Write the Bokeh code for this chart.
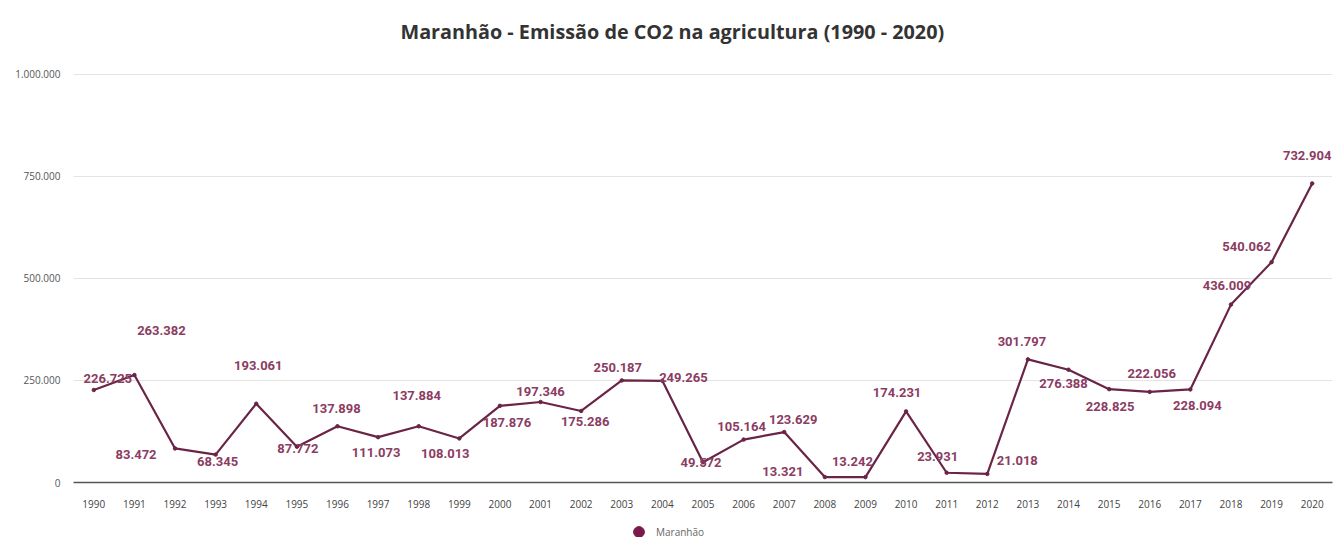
from bokeh.plotting import figure
from bokeh.layouts import column
from bokeh.models import (ColumnDataSource, FixedTicker, Legend, LegendItem,
                          LabelSet)
from bokeh.core.properties import value
from bokeh.embed import file_html
from bokeh.resources import INLINE

# Emissões anuais de CO2 na agricultura do Maranhão
years = list(range(1990, 2021))
emissions = [226725, 263382, 83472, 68345, 193061, 87772, 137898, 111073,
             137884, 108013, 187876, 197346, 175286, 250187, 249265, 49572,
             105164, 123629, 13321, 13242, 174231, 23931, 21018, 301797,
             276388, 228825, 222056, 228094, 436009, 540062, 732904]
y_ticks = [0, 250000, 500000, 750000, 1000000]
y_tick_labels = ["0", "250.000", "500.000", "750.000", "1.000.000"]

# label placement (pixel offsets from each point)
label_dx = [14, 27, -39, 2, 2, 1, -1, -2, -2, -14, 7, 0, 4, -4, 21, -2,
            -2, 9, -42, -13, -9, -9, 30, -6, -5, 1, 2, 7, -4, -25, -5]
label_dy = [11, 45, -6, -7, 38, -2, 18, -15, 31, -15, -17, 10, -11, 13, 3, 0,
            13, 13, 6, 16, 19, 16, 13, 18, -14, -17, 18, -16, 19, 16, 28]

LINE = "#6a2446"
LABEL = "#8b3c63"


def fmt(v):
    return f"{v:,}".replace(",", ".")


src = ColumnDataSource(dict(
    x=years, y=emissions,
    txt=[fmt(v) for v in emissions],
    dx=label_dx, dy=label_dy,
))

p = figure(width=1340, height=510, output_backend="svg", toolbar_location=None,
           x_range=(1989.5, 2020.5), y_range=(0, 1058800),
           min_border_left=73, min_border_right=8,
           min_border_top=50, min_border_bottom=27)

p.title.text = "Maranhão - Emissão de CO2 na agricultura (1990 - 2020)"
p.title.align = "left"
p.title.offset = 327
p.title.standoff = 11
p.title.text_font = "Open Sans"
p.title.text_font_size = "19.8px"
p.title.text_font_style = "bold"
p.title.text_color = "#333333"

p.outline_line_color = None
p.background_fill_color = "white"
p.border_fill_color = "white"

p.line("x", "y", source=src, line_color=LINE, line_width=2.2)
p.scatter("x", "y", source=src, size=3.5, color=LINE)

labels = LabelSet(x="x", y="y", text="txt", source=src,
                  x_offset="dx", y_offset="dy",
                  text_align="center", text_baseline="middle",
                  text_font_size="13px", text_font=value("Roboto"),
                  text_font_style="bold", text_color=LABEL)
p.add_layout(labels)

p.xaxis.ticker = FixedTicker(ticks=years)
p.xaxis.major_label_text_font = "Open Sans"
p.xaxis.major_label_text_font_size = "10px"
p.xaxis.major_label_text_color = "#444444"
p.xaxis.major_tick_line_color = None
p.xaxis.minor_tick_line_color = None
p.xaxis.axis_line_color = "#555555"
p.xaxis.axis_line_width = 1.5
p.xaxis.major_label_standoff = 11

p.yaxis.ticker = FixedTicker(ticks=y_ticks)
p.yaxis.major_label_overrides = {t: s for t, s in zip(y_ticks, y_tick_labels)}
p.yaxis.major_label_text_font = "Open Sans"
p.yaxis.major_label_text_font_size = "10px"
p.yaxis.major_label_text_color = "#555555"
p.yaxis.major_tick_line_color = None
p.yaxis.minor_tick_line_color = None
p.yaxis.axis_line_color = None
p.yaxis.major_label_standoff = 7

p.xgrid.grid_line_color = None
p.ygrid.grid_line_color = "#e3e3e3"
p.ygrid.grid_line_width = 1

# legend strip under the chart
leg = figure(width=1340, height=27, output_backend="svg", toolbar_location=None,
             x_axis_type=None, y_axis_type=None, min_border=0,
             x_range=(0, 1), y_range=(0, 1))
leg.outline_line_color = None
leg.xgrid.grid_line_color = None
leg.ygrid.grid_line_color = None
dot_src = ColumnDataSource(dict(x=[float("nan")], y=[float("nan")]))
dot = leg.scatter("x", "y", source=dot_src, size=12, color="#7a1a4c",
                  marker="circle")
legend = Legend(items=[LegendItem(label="Maranhão", renderers=[dot])],
                orientation="horizontal", location=(552, -8),
                label_text_font="Open Sans", label_text_font_size="10px",
                label_text_color="#666666", border_line_color=None,
                background_fill_alpha=0, label_height=12,
                glyph_width=27, glyph_height=27, label_standoff=4,
                padding=0, margin=0, spacing=0)
leg.add_layout(legend)

layout = column(p, leg, spacing=0)
open("out.html", "w").write(file_html(layout, INLINE))
